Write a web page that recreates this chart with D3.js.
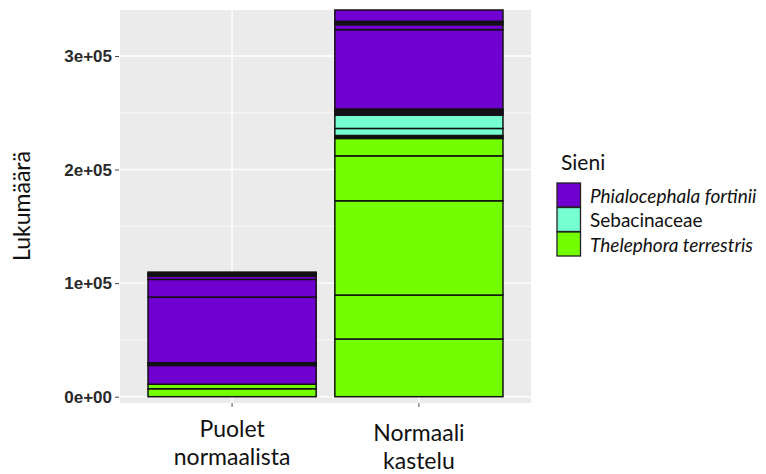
<!DOCTYPE html>
<html>
<head>
<meta charset="utf-8">
<script src="https://cdn.jsdelivr.net/npm/d3@7"></script>
<style>
  html, body { margin: 0; padding: 0; background: #fff; }
  svg { display: block; }
</style>
</head>
<body>
<svg id="chart" width="766" height="474"></svg>
<script>
// ---- data ----
const categories = ["Puolet normaalista", "Normaali kastelu"];
const categoryLines = [["Puolet", "normaalista"], ["Normaali", "kastelu"]];
const species = ["Phialocephala fortinii", "Sebacinaceae", "Thelephora terrestris"];
const speciesItalic = [true, false, true];
const speciesColors = ["#7000d0", "#76ffd0", "#74ff00"];
// per-sample segment values, bottom to top within each species
const puoletPhialo = [16500, 1200, 1200, 57800, 15600, 2900, 1200, 1100, 1200];
const puoletSebacin = [];
const puoletThele = [7000, 4000];
const normaaliPhialo = [1500, 1200, 1400, 1300, 69900, 4400, 1500, 1400, 10000];
const normaaliSebacin = [1300, 6200, 11700];
const normaaliThele = [50800, 38700, 83000, 39600, 15300, 1300];
const yTicks = [0, 100000, 200000, 300000];
const yTickLabels = ["0e+00", "1e+05", "2e+05", "3e+05"];
const yMinor = [50000, 150000, 250000];
const yDomain = [-5550, 340500];

const segmentsByCat = [
  [puoletPhialo, puoletSebacin, puoletThele],
  [normaaliPhialo, normaaliSebacin, normaaliThele]
];

// ---- layout ----
const svg = d3.select("#chart");
const panel = { x0: 120, x1: 531, y0: 10, y1: 403 };

// ggplot-like discrete expansion (0.6 units each side), bar width 0.9
const x = d3.scaleBand().domain(categories)
  .range([panel.x0, panel.x1])
  .paddingInner(0.1).paddingOuter(0.15);
const xPos = c => x(c) + x.bandwidth() / 2;
const barW = x.bandwidth();
const y = d3.scaleLinear().domain(yDomain).range([panel.y1, panel.y0]);

// panel background
svg.append("rect").attr("x", panel.x0).attr("y", panel.y0)
  .attr("width", panel.x1 - panel.x0).attr("height", panel.y1 - panel.y0)
  .attr("fill", "#ebebeb");

const grid = svg.append("g");
yMinor.forEach(v => grid.append("line")
  .attr("x1", panel.x0).attr("x2", panel.x1).attr("y1", y(v)).attr("y2", y(v))
  .attr("stroke", "#fff").attr("stroke-width", 0.7));
yTicks.forEach(v => grid.append("line")
  .attr("x1", panel.x0).attr("x2", panel.x1).attr("y1", y(v)).attr("y2", y(v))
  .attr("stroke", "#fff").attr("stroke-width", 1.4));
categories.forEach(c => grid.append("line")
  .attr("x1", xPos(c)).attr("x2", xPos(c)).attr("y1", panel.y0).attr("y2", panel.y1)
  .attr("stroke", "#fff").attr("stroke-width", 1.4));

// stacked bars: Thelephora at bottom, then Sebacinaceae, Phialocephala on top
const bars = svg.append("g");
categories.forEach((c, ci) => {
  let cum = 0;
  const order = [2, 1, 0];
  order.forEach(si => {
    segmentsByCat[ci][si].forEach(v => {
      bars.append("rect")
        .attr("x", x(c))
        .attr("width", barW)
        .attr("y", y(cum + v))
        .attr("height", y(cum) - y(cum + v))
        .attr("fill", speciesColors[si])
        .attr("stroke", "#111")
        .attr("stroke-width", 1.5);
      cum += v;
    });
  });
});

// y axis
const yAxis = d3.axisLeft(y).tickValues(yTicks)
  .tickFormat((d, i) => yTickLabels[i]).tickSize(4).tickPadding(3);
const gy = svg.append("g").attr("transform", `translate(${panel.x0 - 1},0)`).call(yAxis);
gy.select(".domain").remove();
gy.selectAll(".tick line").attr("stroke", "#444");
gy.selectAll(".tick text")
  .attr("font-family", "Liberation Sans, Arial, sans-serif")
  .attr("font-weight", "bold").attr("font-size", 17).attr("fill", "#2a2a2a");

// x axis ticks
categories.forEach(c => svg.append("line")
  .attr("x1", xPos(c)).attr("x2", xPos(c)).attr("y1", panel.y1).attr("y2", panel.y1 + 4)
  .attr("stroke", "#555"));

// x labels
const xBase = [[437, 465], [441, 469]];
categories.forEach((c, ci) => {
  categoryLines[ci].forEach((line, li) => {
    svg.append("text").attr("x", xPos(c)).attr("y", xBase[ci][li])
      .attr("text-anchor", "middle")
      .attr("font-family", "Lato, 'Open Sans', sans-serif")
      .attr("font-size", 23).attr("fill", "#111").text(line);
  });
});

// y title
svg.append("text")
  .attr("transform", "translate(30,206) rotate(-90)")
  .attr("text-anchor", "middle")
  .attr("font-family", "Lato, 'Open Sans', sans-serif")
  .attr("font-size", 23).attr("fill", "#111").text("Lukumäärä");

// legend
const lg = svg.append("g");
lg.append("text").attr("x", 561).attr("y", 170)
  .attr("font-family", "Lato, 'Open Sans', sans-serif")
  .attr("font-size", 21).attr("fill", "#111").text("Sieni");
species.forEach((s, i) => {
  const ky = 183 + i * 24.5;
  lg.append("rect").attr("x", 557).attr("y", ky).attr("width", 23.5).attr("height", 24)
    .attr("fill", speciesColors[i]).attr("stroke", "#222").attr("stroke-width", 1.3);
  lg.append("text").attr("x", 590).attr("y", ky + 12)
    .attr("dominant-baseline", "central")
    .attr("font-family", "Lato, 'Open Sans', sans-serif")
    .attr("font-style", speciesItalic[i] ? "italic" : "normal")
    .attr("font-size", 19).attr("fill", "#111").text(s);
});
</script>
</body>
</html>
